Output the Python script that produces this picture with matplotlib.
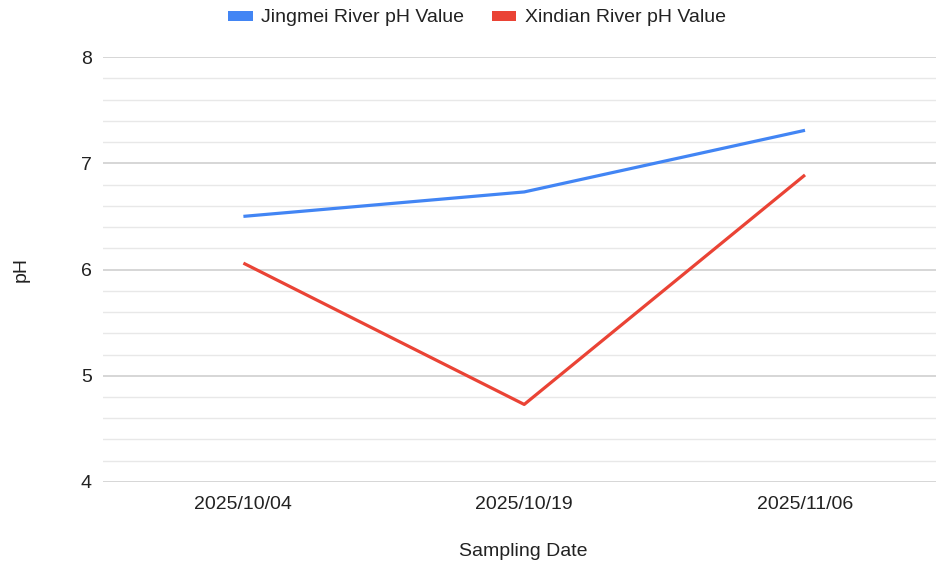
import matplotlib
matplotlib.use("Agg")
import matplotlib.pyplot as plt
from matplotlib.patches import Patch
from matplotlib.ticker import MultipleLocator

plt.rcParams['font.family'] = ['Liberation Sans', 'DejaVu Sans']

dates = ["2025/10/04", "2025/10/19", "2025/11/06"]
jingmei = [6.50, 6.73, 7.31]
xindian = [6.06, 4.73, 6.89]
series_names = ["Jingmei River pH Value", "Xindian River pH Value"]
colors = ["#4285F4", "#EA4335"]

fig = plt.figure(figsize=(9.37, 5.69), dpi=100)
ax = fig.add_axes([103/937, 1-482/569, 834/937, (482-57)/569])

x = list(range(len(dates)))
ax.plot(x, jingmei, color=colors[0], lw=2.3, solid_capstyle='butt', zorder=3)
ax.plot(x, xindian, color=colors[1], lw=2.3, solid_capstyle='butt', zorder=3)

ax.set_xlim(-0.5, 2.47)
ax.set_ylim(4, 8)
ax.yaxis.set_major_locator(MultipleLocator(1))
ax.yaxis.set_minor_locator(MultipleLocator(0.2))
ax.set_xticks(x)
ax.set_xticklabels(dates)

ax.grid(which='major', axis='y', color='#cccccc', lw=1.1, zorder=0)
ax.grid(which='minor', axis='y', color='#e8e8e8', lw=1.0, zorder=0)
ax.set_axisbelow(True)
for s in ax.spines.values():
    s.set_visible(False)
ax.tick_params(axis='both', which='both', length=0, labelsize=14, colors='#222222')
ax.tick_params(axis='y', pad=8)
ax.tick_params(axis='x', pad=10)

fig.text(21/937, 1-270/569, "pH", rotation=90, ha='center', va='center', fontsize=14, color='#222222')
fig.text(523/937, 1-551/569, "Sampling Date", ha='center', va='center', fontsize=14, color='#222222')

handles = [Patch(facecolor=c, edgecolor='none') for c in colors]
leg = fig.legend(handles, series_names, loc='center', bbox_to_anchor=(477/937, 1-18/569),
                 ncol=2, frameon=False, fontsize=14, handlelength=1.25, handleheight=0.42,
                 handletextpad=0.45, columnspacing=1.4, borderpad=0, borderaxespad=0)
for t in leg.get_texts():
    t.set_color('#222222')

fig.savefig("out.png", dpi=100)
